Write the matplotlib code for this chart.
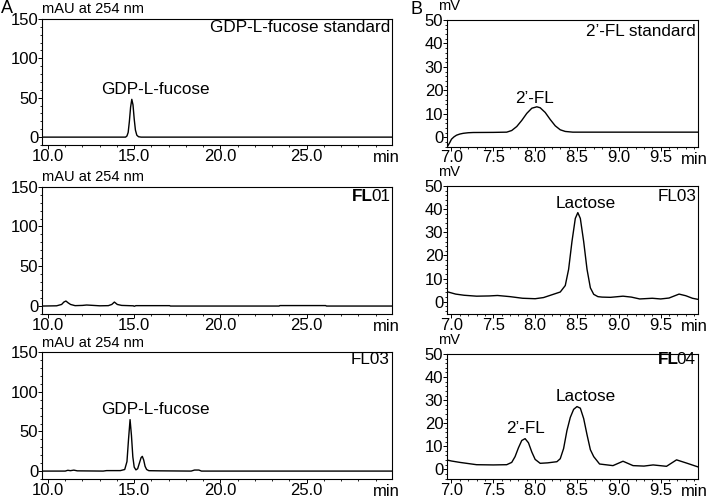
import matplotlib
matplotlib.use("Agg")
import matplotlib.pyplot as plt
from matplotlib.ticker import MultipleLocator

plt.rcParams["font.family"] = ["Liberation Sans", "DejaVu Sans"]

# --- data ------------------------------------------------------------------
# panel A (HPLC, mAU at 254 nm)
std_gdp_t = [9.67, 14.5, 14.58, 14.65, 14.72, 14.79, 14.86, 14.93, 15.0, 15.07, 15.15, 15.25, 15.4, 29.95]
std_gdp_y = [0, 0, 1.5, 6, 20, 38, 48, 41, 23, 9, 2.5, 0.5, 0, 0]

fl01_t = [9.67, 10.5, 10.79, 10.92, 11.04, 11.17, 11.31, 11.57, 12.0, 12.24, 12.63, 13.0, 13.5,
          13.7, 13.85, 14.02, 14.27, 14.95, 15.0, 15.1, 17.05, 17.1, 23.4, 23.45, 26.1, 26.15, 29.95]
fl01_y = [0, 0.3, 2, 5, 6.3, 4, 2, 0.5, 0.8, 1.3, 0.8, 0.3, 0.5,
          2, 5, 2, 0.8, 0.3, -0.3, 0.5, 0.5, 0, 0, 0.6, 0.6, 0, 0]

fl03a_t = [9.67, 11.0, 11.15, 11.3, 11.5, 11.7, 13.2, 13.4, 14.2, 14.45, 14.58, 14.67, 14.76, 14.84,
           14.92, 15.0, 15.1, 15.2, 15.3, 15.4, 15.47, 15.55, 15.63, 15.72, 15.85, 16.5, 18.3, 18.5,
           18.75, 18.9, 29.95]
fl03a_y = [0, 0, 1, 0.5, 1.2, 0.3, 0, 0.6, 0.6, 2, 12, 40, 65, 45,
           18, 5, 1.5, 3, 10, 17, 18.6, 14, 6, 2, 0.5, 0.3, 0, 1.3,
           1.3, 0, 0]

# panel B (HPLC-RID, mV)
std_fl_t = [6.95, 6.98, 7.0, 7.03, 7.06, 7.1, 7.14, 7.2, 7.26, 7.5, 7.66, 7.72, 7.78, 7.84, 7.9,
            7.96, 8.02, 8.06, 8.12, 8.18, 8.24, 8.3, 8.36, 8.45, 9.95]
std_fl_y = [-4, -2.2, -0.8, 0.2, 0.9, 1.4, 1.7, 1.95, 2.05, 2.1, 2.2, 2.9, 4.6, 7.2, 10.2,
            12.4, 13.0, 12.6, 10.6, 7.6, 4.9, 3.2, 2.5, 2.2, 2.2]

fl03b_t = [6.95, 7.05, 7.15, 7.3, 7.45, 7.55, 7.7, 7.85, 8.0, 8.1, 8.2, 8.3, 8.36, 8.4, 8.44, 8.48,
           8.51, 8.54, 8.58, 8.62, 8.66, 8.7, 8.75, 8.8, 8.9, 9.05, 9.15, 9.25, 9.4, 9.5, 9.6,
           9.72, 9.8, 9.88, 9.95]
fl03b_y = [4.3, 3.3, 2.8, 2.4, 2.5, 2.7, 2.2, 1.5, 1.3, 1.8, 3.0, 4.2, 7, 14, 26, 36,
           38.5, 36, 26, 14, 6, 3.2, 2.2, 2.0, 1.9, 2.4, 2.0, 1.2, 1.5, 1.2, 1.6,
           3.3, 2.6, 1.5, 1.0]

fl04_t = [6.95, 7.0, 7.1, 7.3, 7.5, 7.66, 7.72, 7.76, 7.8, 7.84, 7.88, 7.92, 7.96, 8.0, 8.06, 8.15,
          8.26, 8.3, 8.34, 8.38, 8.42, 8.46, 8.5, 8.54, 8.58, 8.62, 8.66, 8.7, 8.77, 8.93, 9.05,
          9.17, 9.3, 9.41, 9.57, 9.69, 9.81, 9.95]
fl04_y = [4.0, 3.6, 3.0, 2.0, 1.9, 2.0, 3.0, 5.5, 9.3, 12.5, 13.3, 11.5, 7.5, 4.3, 2.6, 2.8,
          3.3, 4.6, 9, 16.8, 22.5, 26, 27.2, 26.5, 22, 15, 8.5, 5.5, 2.3, 1.6, 3.5,
          1.6, 1.4, 1.9, 1.3, 4.1, 2.7, 1.0]

a_xticks = [10, 15, 20, 25]
a_xlabels = ["10.0", "15.0", "20.0", "25.0"]
a_yticks = [0, 50, 100, 150]
b_xticks = [7.0, 7.5, 8.0, 8.5, 9.0, 9.5]
b_xlabels = ["7.0", "7.5", "8.0", "8.5", "9.0", "9.5"]
b_yticks = [0, 10, 20, 30, 40, 50]

W, H = 708, 498
PT = 0.72  # points per pixel at dpi 100
TICK_FS = 12
LABEL_FS = 12.3


def px_axes(left, top, right, bottom):
    return [left / W, 1 - bottom / H, (right - left) / W, (bottom - top) / H]


def style(ax, xlim, ylim, xticks, xlabels, yticks, xminor, yminor, unit, min_dx):
    ax.set_xlim(*xlim)
    ax.set_ylim(*ylim)
    ax.set_xticks(xticks)
    ax.set_xticklabels(xlabels)
    ax.set_yticks(yticks)
    ax.xaxis.set_minor_locator(MultipleLocator(xminor))
    ax.yaxis.set_minor_locator(MultipleLocator(yminor))
    ax.tick_params(which="major", direction="out", length=2.6, width=0.7, labelsize=TICK_FS, pad=0)
    ax.tick_params(axis="y", which="major", pad=0.3)
    ax.tick_params(which="minor", direction="out", length=1.5, width=0.6)
    for sp in ax.spines.values():
        sp.set_linewidth(0.8)
    ax.annotate("min", xy=(1, 0), xycoords="axes fraction", xytext=(min_dx * PT, -12.3 * PT),
                textcoords="offset points", ha="center", va="center", fontsize=TICK_FS)
    if unit == "mAU at 254 nm":
        ax.annotate(unit, xy=(0, 1), xycoords="axes fraction", xytext=(0, 9.7 * PT),
                    textcoords="offset points", ha="left", va="center", fontsize=10.5)
    else:
        ax.annotate(unit, xy=(0, 1), xycoords="axes fraction", xytext=(2 * PT, 13.5 * PT),
                    textcoords="offset points", ha="center", va="center", fontsize=10.5)


def sample_name(ax, name, dx, dy, bold_prefix=None):
    if bold_prefix is None:
        ax.annotate(name, xy=(1, 1), xycoords="axes fraction", xytext=(dx * PT, -dy * PT),
                    textcoords="offset points", ha="right", va="center", fontsize=LABEL_FS)
    else:
        rest = ax.annotate(name[len(bold_prefix):], xy=(1, 1), xycoords="axes fraction",
                           xytext=(dx * PT, -dy * PT), textcoords="offset points",
                           ha="right", va="center", fontsize=LABEL_FS)
        ax.annotate(bold_prefix, xy=(0, 0.5), xycoords=rest, xytext=(1.3, 0),
                    textcoords="offset points", ha="right", va="center",
                    fontsize=LABEL_FS, fontweight="bold")


fig = plt.figure(figsize=(W / 100, H / 100), dpi=100)

a_boxes = [(42.3, 19, 392, 145), (42.3, 186.7, 392, 314), (42.3, 352.3, 392, 479)]
b_boxes = [(447.3, 20, 698.3, 146.7), (447.3, 186, 698.3, 314), (447.3, 354, 698.3, 479)]
b_ylims = [(-4, 50), (-5.3, 50), (-4.2, 50)]

a_series = [(std_gdp_t, std_gdp_y), (fl01_t, fl01_y), (fl03a_t, fl03a_y)]
b_series = [(std_fl_t, std_fl_y), (fl03b_t, fl03b_y), (fl04_t, fl04_y)]

axes_a = []
for box, (t, y) in zip(a_boxes, a_series):
    ax = fig.add_axes(px_axes(*box))
    ax.plot(t, y, color="black", lw=1.0)
    style(ax, (9.67, 29.95), (-10, 150), a_xticks, a_xlabels, a_yticks, 1, 10, "mAU at 254 nm", -6)
    axes_a.append(ax)

axes_b = []
for box, ylim, (t, y) in zip(b_boxes, b_ylims, b_series):
    ax = fig.add_axes(px_axes(*box))
    ax.plot(t, y, color="black", lw=1.0)
    style(ax, (6.95, 9.95), ylim, b_xticks, b_xlabels, b_yticks, 0.1, 2, "mV", -4)
    axes_b.append(ax)

# sample names
sample_name(axes_a[0], "GDP-L-fucose standard", -2, 9)
sample_name(axes_a[1], "FL01", -2, 10, bold_prefix="FL")
sample_name(axes_a[2], "FL03", -3, 7.7)
sample_name(axes_b[0], "2’-FL standard", -3, 11.7)
sample_name(axes_b[1], "FL03", -2, 10.7)
sample_name(axes_b[2], "FL04", -2.5, 6, bold_prefix="FL")

# peak labels
axes_a[0].text(16.26, 61, "GDP-L-fucose", ha="center", va="center", fontsize=LABEL_FS)
axes_a[2].text(16.26, 77.8, "GDP-L-fucose", ha="center", va="center", fontsize=LABEL_FS)
axes_b[0].text(7.99, 16.6, "2’-FL", ha="center", va="center", fontsize=LABEL_FS)
axes_b[1].text(8.61, 42.5, "Lactose", ha="center", va="center", fontsize=LABEL_FS)
axes_b[2].text(8.61, 31.5, "Lactose", ha="center", va="center", fontsize=LABEL_FS)
axes_b[2].text(7.89, 17.8, "2’-FL", ha="center", va="center", fontsize=LABEL_FS)

# panel letters
fig.text(6.5 / W, 1 - 8.5 / H, "A", ha="center", va="center", fontsize=13)
fig.text(416 / W, 1 - 9 / H, "B", ha="center", va="center", fontsize=13)

fig.savefig("out.png", dpi=100)
